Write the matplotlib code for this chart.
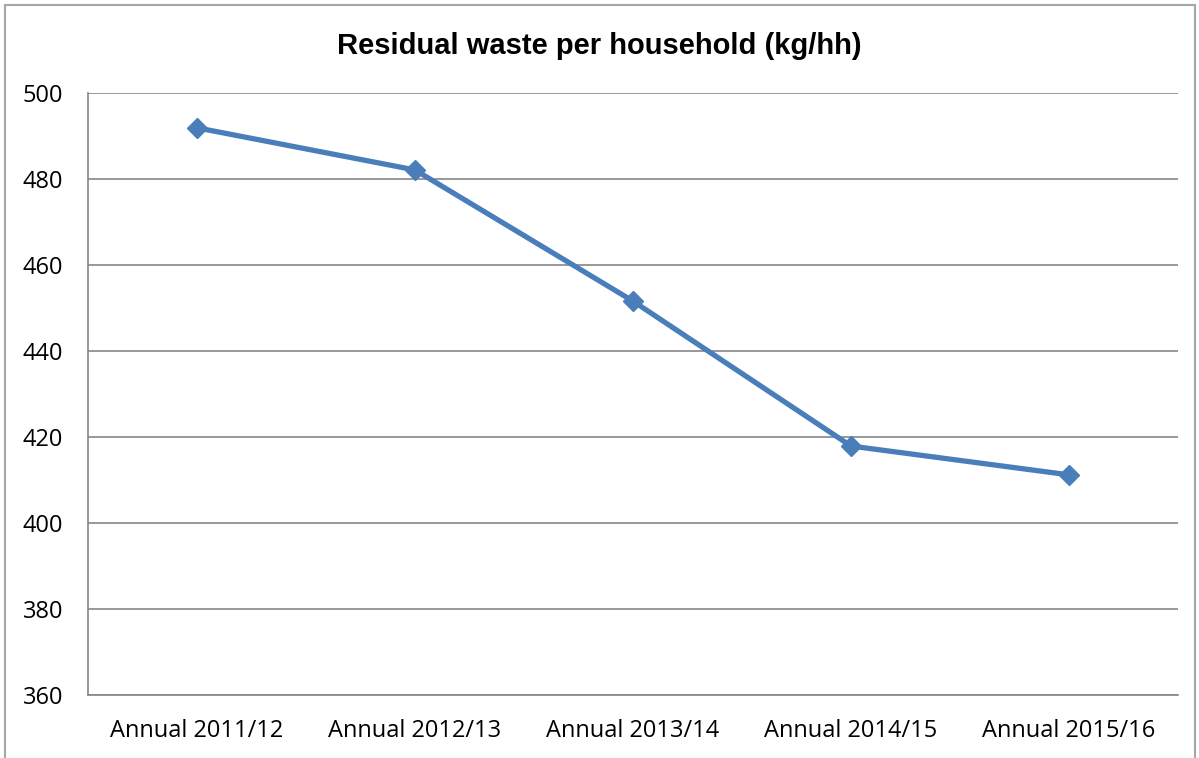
import matplotlib
matplotlib.use('Agg')
import matplotlib.pyplot as plt
from matplotlib.patches import Rectangle

# Residual waste per household, kg/hh
periods = ['Annual 2011/12', 'Annual 2012/13', 'Annual 2013/14', 'Annual 2014/15', 'Annual 2015/16']
waste = [491.9, 482.1, 451.6, 417.9, 411.2]
yticks = [360, 380, 400, 420, 440, 460, 480, 500]

fig = plt.figure(figsize=(11.99, 7.58), dpi=100)
ax = fig.add_axes([88/1199, 1 - 695/758, (1178 - 88)/1199, (695 - 93)/758])

# outer chart border
fig.patches.append(Rectangle((5/1199, -0.05), (1195 - 5)/1199, 1 - 5/758 + 0.05,
                             transform=fig.transFigure, fill=False,
                             edgecolor='#a6a6a6', linewidth=1.5))

x = range(len(periods))
ax.plot(x, waste, color='#4a7ebb', linewidth=3.8, marker='D', markersize=10,
        markerfacecolor='#4a7ebb', markeredgecolor='#4a7ebb', solid_capstyle='round')

ax.set_xlim(-0.5, len(periods) - 0.5)
ax.set_ylim(360, 500)
ax.set_yticks(yticks)
ax.set_xticks(list(x))
ax.set_xticklabels(periods)
ax.grid(axis='y', color='#868686', linewidth=1.2)
ax.set_axisbelow(True)

for s in ['top', 'right']:
    ax.spines[s].set_visible(False)
for s in ['left', 'bottom']:
    ax.spines[s].set_color('#868686')
    ax.spines[s].set_linewidth(1.2)
ax.tick_params(length=0, labelsize=17, colors='black')
ax.tick_params(axis='x', pad=17)
ax.tick_params(axis='y', pad=18)
for lbl in ax.get_xticklabels() + ax.get_yticklabels():
    lbl.set_family(['Open Sans', 'DejaVu Sans'])

fig.text(0.5, 1 - 46/758, 'Residual waste per household (kg/hh)', ha='center', va='center',
         fontsize=21, fontweight='bold', family=['Liberation Sans', 'DejaVu Sans'])

fig.savefig('out.png', dpi=100)
